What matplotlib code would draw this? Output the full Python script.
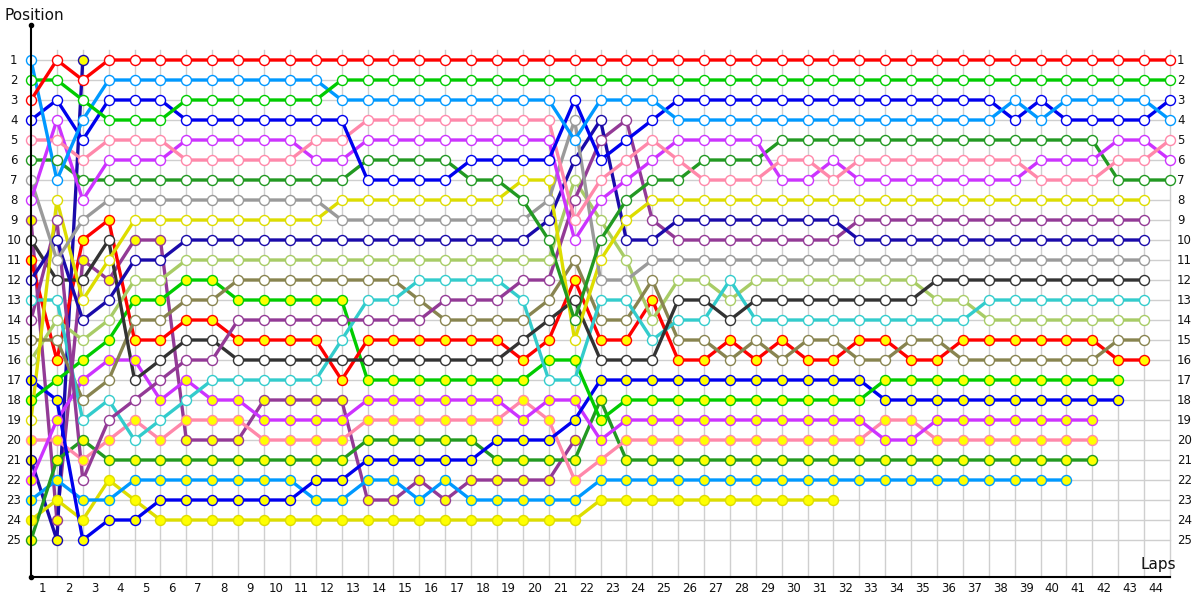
import numpy as np
import matplotlib
matplotlib.use("Agg")
import matplotlib.pyplot as plt

# ---------------- data: position of each car at each lap column (0 = grid) ----------------
lap_labels = list(range(1, 45))
positions = list(range(1, 26))

red_a = [3,1,2,1,1,1,1,1,1,1, 1,1,1,1,1,1,1,1,1,1, 1,1,1,1,1,1,1,1,1,1, 1,1,1,1,1,1,1,1,1,1, 1,1,1,1,1]
green_a = [2,2,3,4,4,4,3,3,3,3, 3,3,2,2,2,2,2,2,2,2, 2,2,2,2,2,2,2,2,2,2, 2,2,2,2,2,2,2,2,2,2, 2,2,2,2,2]
lblue_a = [1,7,4,2,2,2,2,2,2,2, 2,2,3,3,3,3,3,3,3,3, 3,5,3,3,3,4,4,4,4,4, 4,4,4,4,4,4,4,4,3,4, 3,3,3,3,4]
blue_a = [4,3,5,3,3,3,4,4,4,4, 4,4,4,7,7,7,7,6,6,6, 6,3,6,5,4,3,3,3,3,3, 3,3,3,3,3,3,3,3,4,3, 4,4,4,4,3]
pink_a = [5,5,6,5,5,5,6,6,6,6, 6,5,5,4,4,4,4,4,4,4, 4,9,7,6,5,6,7,7,7,6, 6,7,6,6,6,6,6,6,6,7, 7,7,6,6,5]
violet_a = [8,4,8,6,6,6,5,5,5,5, 5,6,6,5,5,5,5,5,5,5, 5,10,8,7,6,5,5,5,5,7, 7,6,7,7,7,7,7,7,7,6, 6,6,5,5,6]
dkgreen_a = [6,6,7,7,7,7,7,7,7,7, 7,7,7,6,6,6,6,7,7,8, 10,14,10,8,7,7,6,6,6,5, 5,5,5,5,5,5,5,5,5,5, 5,5,7,7,7]
gray_a = [7,11,9,8,8,8,8,8,8,8, 8,8,9,9,9,9,9,9,9,9, 8,4,12,12,11,11,11,11,11,11, 11,11,11,11,11,11,11,11,11,11, 11,11,11,11,None]
yellow_a = [19,8,13,11,9,9,9,9,9,9, 9,9,8,8,8,8,8,8,8,7, 7,15,11,9,8,8,8,8,8,8, 8,8,8,8,8,8,8,8,8,8, 8,8,8,8,None]
navy_a = [12,10,14,13,11,11,10,10,10,10, 10,10,10,10,10,10,10,10,10,10, 9,6,4,10,10,9,9,9,9,9, 9,9,10,10,10,10,10,10,10,10, 10,10,10,10,None]
purple_a = [14,9,22,19,18,17,16,16,14,14, 14,14,14,14,14,14,13,13,13,12, 12,8,5,4,9,10,10,10,10,10, 10,10,9,9,9,9,9,9,9,9, 9,9,9,9,None]
black_a = [10,12,12,10,17,16,15,15,16,16, 16,16,16,16,16,16,16,16,16,15, 14,13,16,16,16,13,13,14,13,13, 13,13,13,13,13,12,12,12,12,12, 12,12,12,12,None]
cyan_a = [13,13,19,18,20,19,18,17,17,17, 17,17,15,13,13,12,12,12,12,13, 17,17,13,13,15,14,14,12,14,14, 14,14,14,14,14,14,14,13,13,13, 13,13,13,13,None]
olive_a = [15,15,18,17,14,14,13,13,12,12, 12,12,12,12,12,13,14,14,14,14, 13,11,14,14,12,15,15,16,15,16, 15,15,16,16,15,15,16,16,16,16, 16,16,15,15,None]
ltgreen_a = [16,14,15,14,12,12,11,11,11,11, 11,11,11,11,11,11,11,11,11,11, 11,7,9,11,14,12,12,13,12,12, 12,12,12,12,12,13,13,14,14,14, 14,14,14,14,None]

red_b = [11,16,10,9,15,15,14,14,15,15, 15,15,17,15,15,15,15,15,15,16, 15,12,15,15,13,16,16,15,16,15, 16,16,15,15,16,16,15,15,15,15, 15,15,16,16,None]
green_b = [18,17,16,15,13,13,12,12,13,13, 13,13,13,17,17,17,17,17,17,17, 16,16,19,18,18,18,18,18,18,18, 18,18,18,17,17,17,17,17,17,17, 17,17,17,None,None]
blue_b = [17,18,25,24,24,23,23,23,23,23, 23,22,22,21,21,21,21,21,20,20, 20,19,17,17,17,17,17,17,17,17, 17,17,17,18,18,18,18,18,18,18, 18,18,18,None,None]
violet_b = [22,19,17,16,16,18,17,18,18,19, 19,19,19,18,18,18,18,18,18,19, 18,18,20,19,19,19,19,19,19,19, 19,19,19,20,20,19,19,19,19,19, 19,19,None,None,None]
pink_b = [20,20,21,20,19,20,19,19,19,20, 20,20,20,19,19,19,19,19,19,18, 19,22,21,20,20,20,20,20,20,20, 20,20,20,19,19,20,20,20,20,20, 20,20,None,None,None]
purple_b = [9,24,11,12,10,10,20,20,20,18, 18,18,18,23,23,22,23,22,22,22, 22,20,None,None,None,None,None,None,None,None,
            None,None,None,None,None,None,None,None,None,None, None,None,None,None,None]
dkgreen_b = [25,21,20,21,21,21,21,21,21,21, 21,21,21,20,20,20,20,20,21,21, 21,21,18,21,21,21,21,21,21,21, 21,21,21,21,21,21,21,21,21,21, 21,21,None,None,None]
lblue_b = [23,22,23,23,22,22,22,22,22,22, 22,23,23,22,22,23,22,23,23,23, 23,23,22,22,22,22,22,22,22,22, 22,22,22,22,22,22,22,22,22,22, 22,None,None,None,None]
yellow_b = [24,23,24,22,23,24,24,24,24,24, 24,24,24,24,24,24,24,24,24,24, 24,24,23,23,23,23,23,23,23,23,
            23,23,None,None,None,None,None,None,None,None, None,None,None,None,None]
navy_b = [21,25,1,None,None,None,None,None,None,None, None,None,None,None,None,None,None,None,None,None,
          None,None,None,None,None,None,None,None,None,None, None,None,None,None,None,None,None,None,None,None,
          None,None,None,None,None]

# ---------------- styling ----------------
C = {
    "red": "#ff0000", "green": "#00cc00", "lblue": "#0099ff", "blue": "#0000ee",
    "pink": "#ff88aa", "violet": "#cc33ff", "dkgreen": "#229922", "gray": "#9a9a9a",
    "yellow": "#dddd00", "navy": "#1a0aaa", "purple": "#933a96", "black": "#333333",
    "cyan": "#33cccc", "olive": "#888450", "ltgreen": "#a8cc66",
}
WHITE, YEL = "#ffffff", "#ffff00"

drivers = [
    (purple_b, C["purple"], YEL), (navy_b, C["navy"], YEL), (yellow_b, C["yellow"], YEL),
    (lblue_b, C["lblue"], YEL), (dkgreen_b, C["dkgreen"], YEL), (pink_b, C["pink"], YEL),
    (violet_b, C["violet"], YEL), (blue_b, C["blue"], YEL), (green_b, C["green"], YEL),
    (red_b, C["red"], YEL),
    (ltgreen_a, C["ltgreen"], WHITE), (olive_a, C["olive"], WHITE), (cyan_a, C["cyan"], WHITE),
    (black_a, C["black"], WHITE), (purple_a, C["purple"], WHITE), (navy_a, C["navy"], WHITE),
    (yellow_a, C["yellow"], WHITE), (gray_a, C["gray"], WHITE), (dkgreen_a, C["dkgreen"], WHITE),
    (violet_a, C["violet"], WHITE), (pink_a, C["pink"], WHITE), (blue_a, C["blue"], WHITE),
    (lblue_a, C["lblue"], WHITE), (green_a, C["green"], WHITE), (red_a, C["red"], WHITE),
]

fig = plt.figure(figsize=(12, 6), dpi=100)
ax = fig.add_axes([31 / 1200, 23 / 600, 1139 / 1200, 552 / 600])
YTOP, YBOT = -0.75, 26.85
ax.set_xlim(0, 44)
ax.set_ylim(YBOT, YTOP)
ax.set_axis_off()

# grid
for i in range(1, 45):
    ax.plot([i, i], [0.5, YBOT], color="#cfcfcf", lw=1, zorder=1, clip_on=False)
for p in positions:
    ax.plot([0, 44], [p, p], color="#cfcfcf", lw=1, zorder=1, clip_on=False)

# axes lines
ax.plot([0, 0], [YTOP, YBOT], color="black", lw=1.5, zorder=5, clip_on=False)
ax.plot([0, 44], [YBOT, YBOT], color="black", lw=1.5, zorder=5, clip_on=False)
ax.plot([0, 0], [YTOP, YBOT], "o", color="black", ms=3, zorder=6, clip_on=False)

# lines then markers
for vals, col, fill in drivers:
    y = np.array(vals, dtype=float)
    x = np.arange(len(y))
    ax.plot(x, y, color=col, lw=2.4, zorder=3, solid_joinstyle="round", clip_on=False)
for vals, col, fill in drivers:
    y = np.array(vals, dtype=float)
    x = np.arange(len(y))
    ax.plot(x, y, ls="none", marker="o", ms=7.2, mfc=fill, mec=col, mew=1.0,
            zorder=4, clip_on=False)

# labels
for p in positions:
    ax.text(-0.66, p, str(p), ha="center", va="center", fontsize=8.5, color="#111111")
    ax.text(44.27, p, str(p), ha="left", va="center", fontsize=8.5, color="#111111")
for k in lap_labels:
    ax.text(k - 0.55, 27.45, str(k), ha="center", va="center", fontsize=8.5, color="#111111")

fig.text(4 / 1200, 1 - 16 / 600, "Position", ha="left", va="center", fontsize=11, color="#111111")
fig.text(1176 / 1200, 1 - 565 / 600, "Laps", ha="right", va="center", fontsize=11, color="#111111")

fig.savefig("out.png", dpi=100, facecolor="white")
